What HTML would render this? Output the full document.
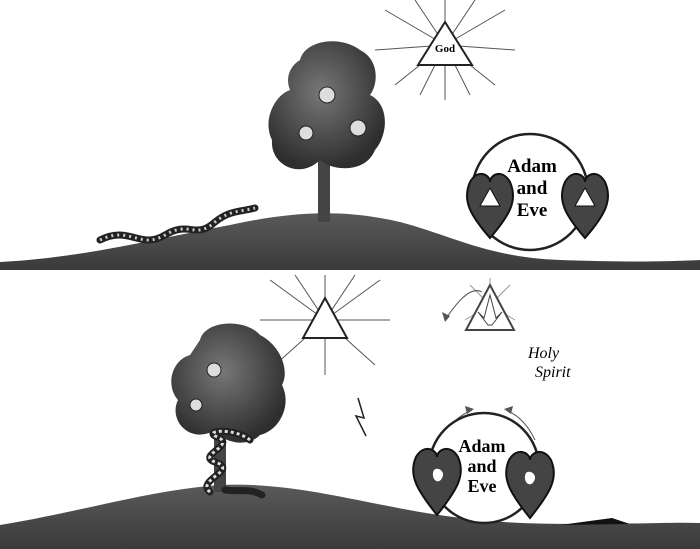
<!DOCTYPE html>
<html><head><meta charset="utf-8"><style>
html,body{margin:0;padding:0;background:#fff;}
svg{display:block;}
text{font-family:"Liberation Serif",serif;}
</style></head><body>
<svg width="700" height="549" viewBox="0 0 700 549">
<defs>
<radialGradient id="canopy" cx="45%" cy="40%" r="60%"><stop offset="0" stop-color="#777"/><stop offset="1" stop-color="#2e2e2e"/></radialGradient>
<linearGradient id="hill" x1="0" y1="0" x2="0" y2="1"><stop offset="0" stop-color="#5a5a5a"/><stop offset="1" stop-color="#3a3a3a"/></linearGradient>
</defs>

<!-- TOP PANEL -->
<g>
<path d="M0,262 C80,258 150,240 230,225 C290,212 340,208 400,222 C450,235 490,258 560,260 C620,262 660,262 700,260 L700,270 L0,270 Z" fill="url(#hill)"/>
<g stroke="#555" stroke-width="1">
<line x1="445" y1="45" x2="385" y2="10"/><line x1="445" y1="45" x2="505" y2="10"/>
<line x1="445" y1="45" x2="375" y2="50"/><line x1="445" y1="45" x2="515" y2="50"/>
<line x1="445" y1="45" x2="395" y2="85"/><line x1="445" y1="45" x2="495" y2="85"/>
<line x1="445" y1="45" x2="445" y2="0"/><line x1="445" y1="45" x2="445" y2="100"/>
<line x1="445" y1="45" x2="415" y2="0"/><line x1="445" y1="45" x2="475" y2="0"/>
<line x1="445" y1="45" x2="420" y2="95"/><line x1="445" y1="45" x2="470" y2="95"/>
</g>
<polygon points="445,22 418,65 472,65" fill="#fff" stroke="#222" stroke-width="2"/>
<text x="445" y="52" font-size="11" font-weight="bold" text-anchor="middle">God</text>

<rect x="318" y="140" width="12" height="82" fill="#444"/>
<path d="M300,60 C305,40 340,35 360,50 C380,60 378,85 370,95 C390,105 388,135 375,150 C365,175 330,170 320,160 C300,180 270,165 272,140 C262,120 275,95 290,90 C285,78 290,66 300,60 Z" fill="url(#canopy)"/>
<circle cx="327" cy="95" r="8" fill="#ddd" stroke="#222"/>
<circle cx="306" cy="133" r="7" fill="#ddd" stroke="#222"/>
<circle cx="358" cy="128" r="8" fill="#ddd" stroke="#222"/>

<path d="M100,240 C130,225 140,250 165,235 C190,220 195,240 215,222 C230,210 240,212 255,208" fill="none" stroke="#222" stroke-width="7" stroke-linecap="round"/>
<path d="M100,240 C130,225 140,250 165,235 C190,220 195,240 215,222 C230,210 240,212 255,208" fill="none" stroke="#ccc" stroke-width="3" stroke-dasharray="2 4"/>

<circle cx="530" cy="192" r="58" fill="#fff" stroke="#222" stroke-width="2.5"/>
<text x="532" y="172" font-size="19" font-weight="bold" text-anchor="middle" font-family="Liberation Sans,sans-serif"><tspan x="532">Adam</tspan><tspan x="532" dy="22">and</tspan><tspan x="532" dy="22">Eve</tspan></text>
<path d="M490,238 C470,215 462,200 470,182 C478,168 490,175 490,182 C490,175 502,168 510,182 C518,200 510,215 490,238 Z" fill="#444" stroke="#111" stroke-width="2"/>
<polygon points="490,188 480,206 500,206" fill="#fff" stroke="#111"/>
<path d="M585,238 C565,215 557,200 565,182 C573,168 585,175 585,182 C585,175 597,168 605,182 C613,200 605,215 585,238 Z" fill="#444" stroke="#111" stroke-width="2"/>
<polygon points="585,188 575,206 595,206" fill="#fff" stroke="#111"/>
</g>

<!-- BOTTOM PANEL -->
<g>
<path d="M0,525 C80,512 150,490 220,485 C290,482 350,500 420,512 C480,522 520,524 580,524 C640,524 670,522 700,523 L700,549 L0,549 Z" fill="url(#hill)"/>
<path d="M560,525 L630,524 L612,518 Z" fill="#111"/>

<g stroke="#555" stroke-width="1">
<line x1="325" y1="320" x2="270" y2="280"/><line x1="325" y1="320" x2="380" y2="280"/>
<line x1="325" y1="320" x2="260" y2="320"/><line x1="325" y1="320" x2="390" y2="320"/>
<line x1="325" y1="320" x2="275" y2="365"/><line x1="325" y1="320" x2="375" y2="365"/>
<line x1="325" y1="320" x2="325" y2="275"/><line x1="325" y1="320" x2="325" y2="375"/>
<line x1="325" y1="320" x2="295" y2="275"/><line x1="325" y1="320" x2="355" y2="275"/>
</g>
<polygon points="325,298 303,338 347,338" fill="#fff" stroke="#222" stroke-width="2"/>
<polyline points="358,398 364,418 356,416 366,436" fill="none" stroke="#222" stroke-width="1.5"/>

<rect x="214" y="410" width="12" height="82" fill="#444"/>
<path d="M200,340 C205,320 245,318 260,335 C280,345 290,370 282,385 C292,405 280,430 260,435 C245,450 220,440 215,430 C190,445 168,420 178,400 C165,385 172,360 190,355 Z" fill="url(#canopy)"/>
<circle cx="214" cy="370" r="7" fill="#ddd" stroke="#222"/>
<circle cx="196" cy="405" r="6" fill="#ddd" stroke="#222"/>
<path d="M210,492 C195,480 240,470 215,462 C195,455 240,445 215,436 C205,430 235,428 250,440 M225,490 C240,492 250,488 262,495" fill="none" stroke="#222" stroke-width="7" stroke-linecap="round"/>
<path d="M210,492 C195,480 240,470 215,462 C195,455 240,445 215,436 C205,430 235,428 250,440" fill="none" stroke="#ddd" stroke-width="3" stroke-dasharray="3 3"/>

<path d="M490,305 L470,285 M490,305 L510,285 M490,305 L465,320 M490,305 L515,320 M490,305 L490,278" stroke="#999" stroke-width="1"/>
<polygon points="490,285 466,330 514,330" fill="#fff" stroke="#444" stroke-width="2"/>
<path d="M490,295 L484,318 L478,312 L488,325 L492,325 L502,312 L496,318 Z" fill="none" stroke="#444" stroke-width="1"/>
<text x="528" y="358" font-size="16" font-style="italic" font-family="Liberation Sans,sans-serif"><tspan x="528">Holy</tspan><tspan x="535" dy="19">Spirit</tspan></text>
<path d="M482,292 C470,285 455,305 445,320" fill="none" stroke="#555" stroke-width="1"/>
<polygon points="445,322 442,312 450,316" fill="#555"/>
<path d="M440,440 C448,425 460,415 472,410" fill="none" stroke="#555"/>
<polygon points="474,409 465,406 467,414" fill="#555"/>
<path d="M535,440 C528,425 518,415 506,410" fill="none" stroke="#555"/>
<polygon points="504,409 513,406 511,414" fill="#555"/>

<circle cx="484" cy="468" r="55" fill="#fff" stroke="#222" stroke-width="2.5"/>
<text x="482" y="452" font-size="18" font-weight="bold" text-anchor="middle" font-family="Liberation Sans,sans-serif"><tspan x="482">Adam</tspan><tspan x="482" dy="20">and</tspan><tspan x="482" dy="20">Eve</tspan></text>
<path d="M437,515 C417,490 408,475 416,457 C424,443 437,450 437,457 C437,450 450,443 458,457 C466,475 457,490 437,515 Z" fill="#444" stroke="#111" stroke-width="2"/>
<path d="M434,470 C430,478 438,486 442,478 C446,472 438,466 434,470 Z" fill="#fff"/>
<path d="M530,518 C510,493 501,478 509,460 C517,446 530,453 530,460 C530,453 543,446 551,460 C559,478 550,493 530,518 Z" fill="#444" stroke="#111" stroke-width="2"/>
<path d="M526,473 C522,481 530,489 534,481 C538,475 530,469 526,473 Z" fill="#fff"/>
</g>
</svg>
</body></html>
